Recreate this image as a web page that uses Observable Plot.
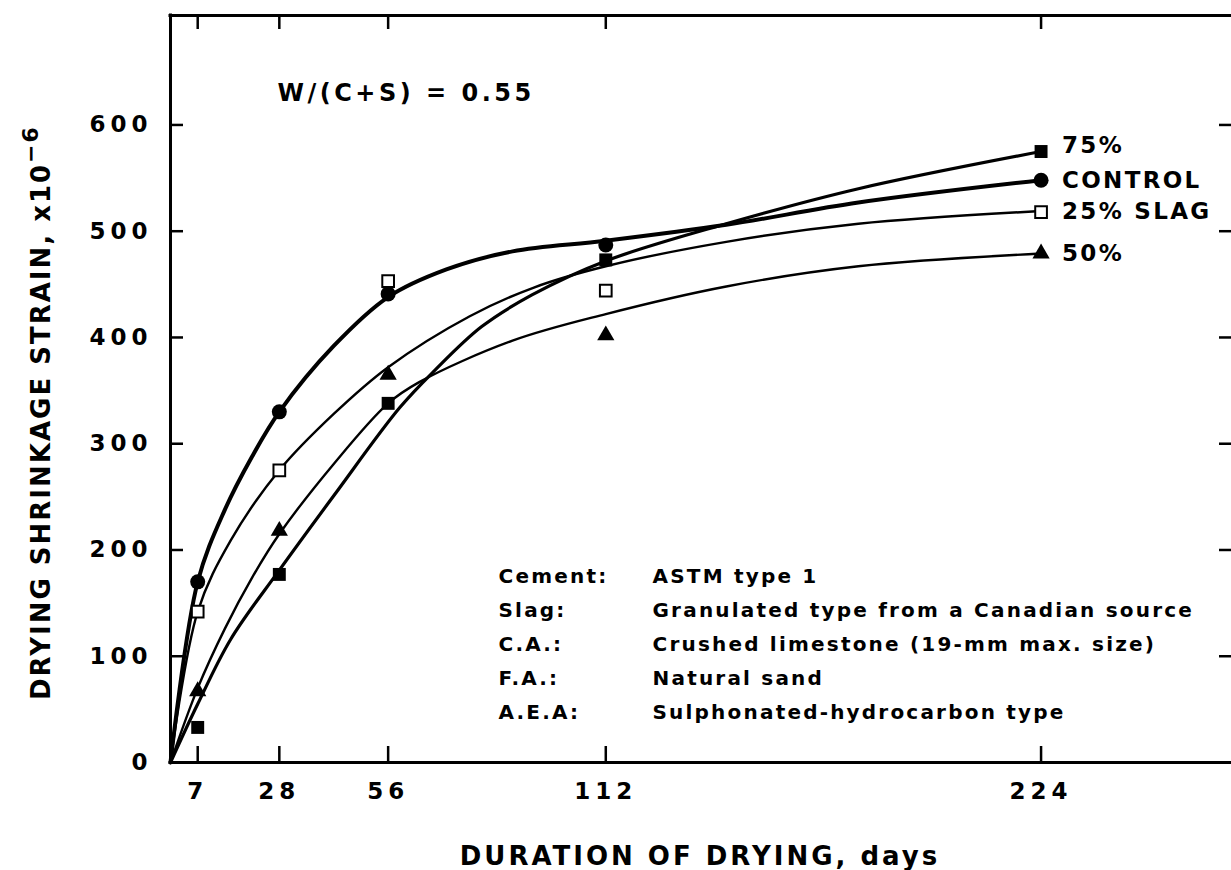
<!DOCTYPE html>
<html><head><meta charset="utf-8">
<script src="https://cdn.jsdelivr.net/npm/d3@7"></script>
<script src="https://cdn.jsdelivr.net/npm/@observablehq/plot@0.6"></script>
<style>
html,body{margin:0;padding:0;background:#fff;overflow:hidden}
#chart svg{display:block}
#chart svg text{font-weight:bold}
g[aria-label="y-axis tick label"], g[aria-label="x-axis tick label"]{letter-spacing:5px}
</style></head><body><div id="chart"></div>
<script>
// measured points (days of drying -> shrinkage strain x1e-6)
const days = [7, 28, 56, 112, 224];
const control = [170, 330, 441, 487, 548];
const slag25 = [142, 275, 453, 444, 518];
const slag50 = [67, 218, 365, 402, 479];
const slag75 = [33, 177, 338, 473, 575];

// hand-fitted curves
const fitControlDays = [0, 7, 14, 21, 28, 42, 56, 71, 88, 112, 143, 177, 224];
const fitControl     = [0, 170, 238, 288, 330, 392, 438, 464, 481, 491, 506, 527, 548];
const fit25Days = [0, 7, 15.5, 28, 42, 56, 77, 93.5, 112, 143, 177, 224];
const fit25     = [0, 142, 209, 275, 328, 372, 420, 447, 467, 490, 507, 519];
const fit50Days = [0, 7, 14, 21, 28, 42, 56, 64, 88, 112, 143, 177, 224];
const fit50     = [0, 70, 126, 174, 215, 281, 338, 358, 397, 422, 448, 467, 479];
const fit75Days = [0, 7, 15.5, 28, 42, 59, 68, 80, 93, 112, 143, 177, 224];
const fit75     = [0, 55, 116, 181, 251, 334, 369, 410, 440, 472, 507, 540, 575];

const xTicks = [7, 28, 56, 112, 224];
const yTicks = [0, 100, 200, 300, 400, 500, 600];
const xMax = 273;
const yMax = 703;

const seriesNames = ["CONTROL", "25% SLAG", "50%", "75%"];
const noteText = "W/(C+S) = 0.55";
const materialKeys = ["Cement:", "Slag:", "C.A.:", "F.A.:", "A.E.A:"];
const materialValues = ["ASTM type 1", "Granulated type from a Canadian source", "Crushed limestone (19-mm max. size)", "Natural sand", "Sulphonated-hydrocarbon type"];
const xTitle = "DURATION OF DRYING, days";
const yTitle = "DRYING SHRINKAGE STRAIN, x10";
const yTitleExp = "\u22126";

const pts = (vals) => days.map((d, i) => ({day: d, v: vals[i]}));
const fit = (ds, vs) => ds.map((d, i) => ({day: d, v: vs[i]}));
const allVals = [control, slag25, slag50, slag75];
const ends = seriesNames.map((name, i) => ({name, day: days[days.length - 1], v: allVals[i][days.length - 1]}));

const plot = Plot.plot({
  width: 1231, height: 870,
  marginLeft: 170, marginRight: 0, marginTop: 15, marginBottom: 108,
  style: {fontFamily: "DejaVu Sans", color: "black", background: "white", overflow: "visible"},
  x: {domain: [0, xMax], label: null},
  y: {domain: [0, yMax], label: null},
  marks: [
    // frame (left, bottom, top)
    Plot.ruleX([0], {strokeWidth: 3, strokeLinecap: "square"}),
    Plot.ruleY([0], {strokeWidth: 3, strokeLinecap: "square"}),
    Plot.ruleY([yMax], {strokeWidth: 3, strokeLinecap: "square"}),
    // inward ticks on all sides
    Plot.axisY(yTicks, {anchor: "left", tickSize: 13, dx: 13, fill: "none", strokeWidth: 2.5, label: null}),
    Plot.axisY(yTicks, {anchor: "right", tickSize: 13, dx: -13, fill: "none", strokeWidth: 2.5, label: null}),
    Plot.axisX(xTicks, {anchor: "bottom", tickSize: 16, dy: -16, fill: "none", strokeWidth: 2.5, label: null}),
    Plot.axisX(xTicks, {anchor: "top", tickSize: 13, dy: 13, fill: "none", strokeWidth: 2.5, label: null}),
    // tick labels
    Plot.axisY(yTicks, {anchor: "left", tickSize: 0, tickPadding: 18, fontSize: 23, label: null}),
    Plot.axisX(xTicks, {anchor: "bottom", tickSize: 0, tickPadding: 20, fontSize: 23, label: null}),
    // fitted curves
    Plot.line(fit(fitControlDays, fitControl), {x: "day", y: "v", curve: "catmull-rom", strokeWidth: 4}),
    Plot.line(fit(fit25Days, fit25), {x: "day", y: "v", curve: "catmull-rom", strokeWidth: 2.4}),
    Plot.line(fit(fit50Days, fit50), {x: "day", y: "v", curve: "catmull-rom", strokeWidth: 2.4}),
    Plot.line(fit(fit75Days, fit75), {x: "day", y: "v", curve: "catmull-rom", strokeWidth: 3.2}),
    // measured points
    Plot.dot(pts(control), {x: "day", y: "v", symbol: "circle", r: 7.5, fill: "black"}),
    Plot.dot(pts(slag25), {x: "day", y: "v", symbol: "square", r: 6.6, fill: "white", stroke: "black", strokeWidth: 2}),
    Plot.dot(pts(slag50), {x: "day", y: "v", symbol: "triangle", r: 6.4, fill: "black"}),
    Plot.dot(pts(slag75), {x: "day", y: "v", symbol: "square", r: 7.3, fill: "black"}),
    // series labels
    Plot.text(ends.filter(d => d.name !== "75%"), {x: "day", y: "v", text: "name", dx: 21, textAnchor: "start", fontSize: 23}),
    Plot.text(ends.filter(d => d.name === "75%"), {x: "day", y: "v", text: "name", dx: 21, dy: -6, textAnchor: "start", fontSize: 23}),
    // notes
    Plot.text([noteText], {frameAnchor: "top-left", dx: 107, dy: 68, textAnchor: "start", fontSize: 24}),
    Plot.text([materialKeys.join("\n")], {frameAnchor: "left", dx: 328, dy: 251, textAnchor: "start", fontSize: 20, lineHeight: 1.7}),
    Plot.text([materialValues.join("\n")], {frameAnchor: "left", dx: 482, dy: 251, textAnchor: "start", fontSize: 20, lineHeight: 1.7})
  ]
});

const svg = d3.select(plot);
// letter spacing for the wide typeface of the original
svg.selectAll("text").each(function() {
  const s = this.textContent;
  if (seriesNames.includes(s)) this.setAttribute("letter-spacing", "2.3px");
  else if (s === noteText) this.setAttribute("letter-spacing", "3.5px");
  else if (s.startsWith(materialKeys[0]) || s.startsWith(materialValues[0])) this.setAttribute("letter-spacing", "2.2px");
});

const yt = svg.append("text")
  .attr("transform", "translate(50,700) rotate(-90)")
  .attr("text-anchor", "start")
  .attr("font-size", 26).attr("font-weight", "bold").attr("letter-spacing", "2px").attr("fill", "black");
yt.append("tspan").text(yTitle);
yt.append("tspan").attr("dy", -12).attr("font-size", 22).text(yTitleExp);
svg.append("text")
  .attr("x", 700).attr("y", 865).attr("text-anchor", "middle")
  .attr("font-size", 26).attr("font-weight", "bold").attr("letter-spacing", "3px").attr("fill", "black")
  .text(xTitle);

document.getElementById("chart").appendChild(plot);
</script></body></html>
